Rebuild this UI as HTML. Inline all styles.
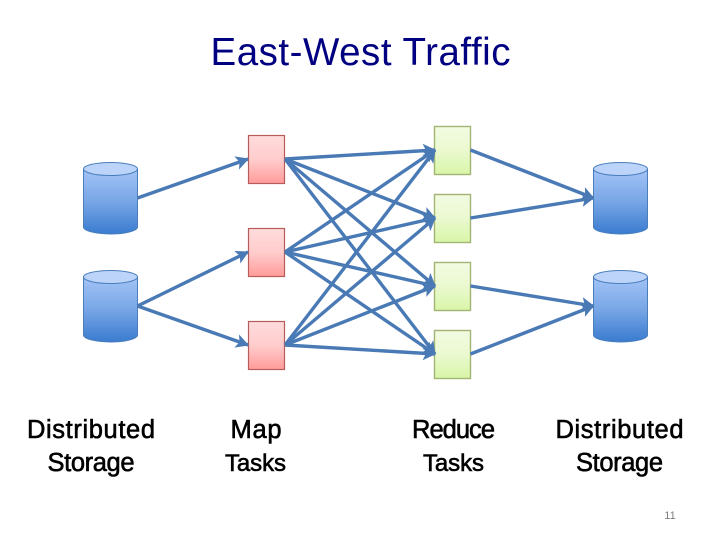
<!DOCTYPE html>
<html>
<head>
<meta charset="utf-8">
<style>
html,body{margin:0;padding:0;background:#fff;width:720px;height:540px;overflow:hidden}
svg{display:block}
text{font-family:"Liberation Sans",sans-serif}
.l{font-size:25.5px;fill:#000;stroke:#000;stroke-width:.6px}
</style>
</head>
<body>
<svg width="720" height="540" viewBox="0 0 720 540" xmlns="http://www.w3.org/2000/svg">
<defs>
<linearGradient id="cy" x1="0" y1="0" x2="0" y2="1"><stop offset="0" stop-color="#a3c4f7"/><stop offset=".5" stop-color="#78a6e6"/><stop offset="1" stop-color="#3a7bcf"/></linearGradient>
<linearGradient id="rd" x1="0" y1="0" x2="0" y2="1"><stop offset="0" stop-color="#ffdcdc"/><stop offset=".5" stop-color="#ffcccc"/><stop offset="1" stop-color="#ff9c9a"/></linearGradient>
<linearGradient id="gr" x1="0" y1="0" x2="0" y2="1"><stop offset="0" stop-color="#f2fbe2"/><stop offset=".5" stop-color="#ebf9d0"/><stop offset="1" stop-color="#d8f6a8"/></linearGradient>
<marker id="a" markerUnits="userSpaceOnUse" markerWidth="16" markerHeight="16" refX="12" refY="7" orient="auto"><path d="M0 0L13 7L0 14L3 7Z" fill="#4a7ab5"/></marker>
<g id="c">
<path d="M0 7V65A27 7 0 0 0 54 65V7Z" fill="url(#cy)" stroke="#4a7ebb" stroke-width="1"/>
<ellipse cx="27" cy="7" rx="27" ry="6.5" fill="#bcd4fa" stroke="#4a7ebb" stroke-width="1"/>
</g>
</defs>
<text x="210.5" y="65" font-size="38.5" fill="#000080" textLength="300" lengthAdjust="spacing">East-West Traffic</text>

<use href="#c" x="83.5" y="162"/>
<use href="#c" x="83.5" y="270"/>
<use href="#c" x="593.5" y="162"/>
<use href="#c" x="593.5" y="270"/>

<g fill="url(#rd)" stroke="#b65c5a" stroke-width="1.2">
<rect x="248.5" y="135.5" width="36" height="48"/>
<rect x="248.5" y="228.5" width="36" height="48"/>
<rect x="248.5" y="321.5" width="36" height="48"/>
</g>
<g fill="url(#gr)" stroke="#a3b573" stroke-width="1.4">
<rect x="434.5" y="126.5" width="36" height="48"/>
<rect x="434.5" y="194.5" width="36" height="48"/>
<rect x="434.5" y="262.5" width="36" height="48"/>
<rect x="434.5" y="330.5" width="36" height="48"/>
</g>

<g stroke="#4a7ab5" stroke-width="3.4" fill="none">
<line x1="137.5" y1="198" x2="248" y2="159" marker-end="url(#a)"/>
<line x1="137.5" y1="306" x2="248" y2="252" marker-end="url(#a)"/>
<line x1="137.5" y1="306" x2="248" y2="345" marker-end="url(#a)"/>
<line x1="285" y1="159" x2="435" y2="150" marker-end="url(#a)"/>
<line x1="285" y1="159" x2="435" y2="218" marker-end="url(#a)"/>
<line x1="285" y1="159" x2="435" y2="286" marker-end="url(#a)"/>
<line x1="285" y1="159" x2="435" y2="354" marker-end="url(#a)"/>
<line x1="285" y1="252" x2="435" y2="150" marker-end="url(#a)"/>
<line x1="285" y1="252" x2="435" y2="218" marker-end="url(#a)"/>
<line x1="285" y1="252" x2="435" y2="286" marker-end="url(#a)"/>
<line x1="285" y1="252" x2="435" y2="354" marker-end="url(#a)"/>
<line x1="285" y1="345" x2="435" y2="150" marker-end="url(#a)"/>
<line x1="285" y1="345" x2="435" y2="218" marker-end="url(#a)"/>
<line x1="285" y1="345" x2="435" y2="286" marker-end="url(#a)"/>
<line x1="285" y1="345" x2="435" y2="354" marker-end="url(#a)"/>
<line x1="470.5" y1="150" x2="593.5" y2="198" marker-end="url(#a)"/>
<line x1="470.5" y1="218" x2="593.5" y2="198" marker-end="url(#a)"/>
<line x1="470.5" y1="286" x2="593.5" y2="306" marker-end="url(#a)"/>
<line x1="470.5" y1="354" x2="593.5" y2="306" marker-end="url(#a)"/>
</g>

<text class="l" x="27" y="438" textLength="128" lengthAdjust="spacing">Distributed</text>
<text class="l" x="47.5" y="471" textLength="87" lengthAdjust="spacing">Storage</text>
<text class="l" x="230.5" y="438" textLength="51">Map</text>
<text class="l" x="225" y="471" textLength="61" lengthAdjust="spacing" style="font-size:24px">Tasks</text>
<text class="l" x="412" y="438" textLength="83" lengthAdjust="spacing">Reduce</text>
<text class="l" x="423" y="471" textLength="61" lengthAdjust="spacing" style="font-size:24px">Tasks</text>
<text class="l" x="555.5" y="438" textLength="128" lengthAdjust="spacing">Distributed</text>
<text class="l" x="576" y="471" textLength="87" lengthAdjust="spacing">Storage</text>
<text x="670" y="519" text-anchor="middle" font-size="11" fill="#7f7f7f">11</text>
</svg>
</body>
</html>
